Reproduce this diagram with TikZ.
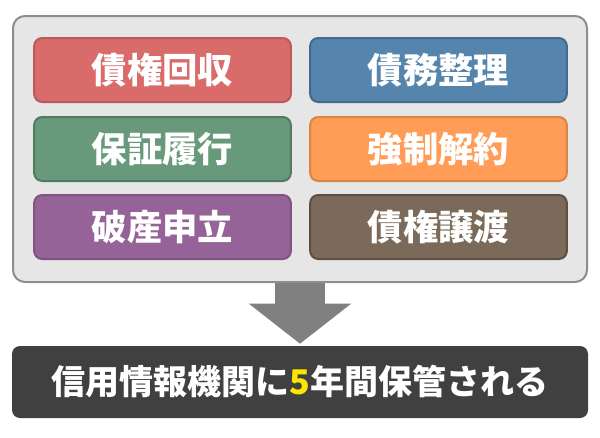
\documentclass[tikz,border=0pt]{standalone}
\usepackage{fontspec}
\setmainfont{Noto Sans CJK JP}
\usetikzlibrary{arrows.meta,positioning}
\definecolor{debtred}{HTML}{D96B6B}
\definecolor{debtblue}{HTML}{5584AD}
\definecolor{debtgreen}{HTML}{67997A}
\definecolor{debtorange}{HTML}{FF9C55}
\definecolor{debtpurple}{HTML}{956397}
\definecolor{debtbrown}{HTML}{7B6A59}
\definecolor{panelgrey}{HTML}{E6E6E6}
\definecolor{arrowgrey}{HTML}{808080}
\definecolor{resultdark}{HTML}{404040}
\definecolor{fiveyellow}{HTML}{FFE600}

\begin{document}
\begin{tikzpicture}[x=0.75pt,y=-0.75pt,font=\bfseries\fontsize{25.5}{30}\selectfont,
  item/.style={rounded corners=6pt,line width=1.5pt,text=white,font=\bfseries\fontsize{26.5}{30}\selectfont,minimum width=192.5pt,minimum height=48pt,inner sep=0pt},
  arr/.style={-{Triangle[length=30pt,width=75pt]},line width=37.5pt,arrowgrey}]
\useasboundingbox (0,0) rectangle (600,437);
\node[rounded corners=9pt,fill=panelgrey,draw=arrowgrey!90,line width=1.5pt,minimum width=430.5pt,minimum height=199.5pt] (panel) at (300,149) {};
\node[item,fill=debtred,draw=debtred!85!black] (kaishu) at (162.5,70) {債権回収};
\node[item,fill=debtblue,draw=debtblue!80!black] (seiri) at (438.5,70) {債務整理};
\node[item,fill=debtgreen,draw=debtgreen!80!black] (hosho) at (162.5,149) {保証履行};
\node[item,fill=debtorange,draw=debtorange!85!black] (kaiyaku) at (438.5,149) {強制解約};
\node[item,fill=debtpurple,draw=debtpurple!85!black] (hasan) at (162.5,227) {破産申立};
\node[item,fill=debtbrown,draw=debtbrown!75!black] (joto) at (438.5,227) {債権譲渡};
\node[rounded corners=6pt,fill=resultdark,text=white,minimum width=432pt,minimum height=54pt,inner sep=0pt] (result) at (300,382)
 {信用情報機関に\textcolor{fiveyellow}{5}年間保管される};
\draw[arr,shorten >=1.5pt] (panel.south) -- (result.north);
\end{tikzpicture}
\end{document}
